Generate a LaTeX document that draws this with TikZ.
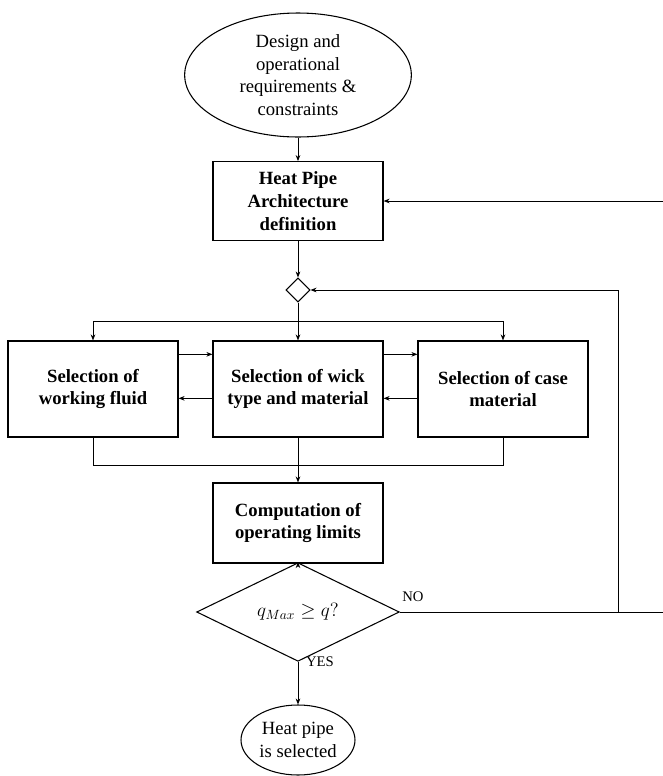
\documentclass[tikz,border=0pt]{standalone}
\usepackage{fontspec}
\setmainfont{Liberation Serif}
\usetikzlibrary{arrows.meta,shapes,positioning,calc}

\begin{document}
\begin{tikzpicture}[x=0.75pt,y=-0.75pt,
    every node/.style={font=\fontsize{14}{17}\selectfont, align=center},
    block/.style={draw, line width=0.9pt, minimum width=127.5pt, inner sep=2pt, font=\fontsize{14}{17}\selectfont\bfseries},
    term/.style={draw, ellipse, line width=0.8pt, inner sep=0pt},
    cond/.style={draw, diamond, line width=0.8pt, inner sep=0pt},
    lbl/.style={font=\fontsize{11}{13}\selectfont},
    arr/.style={-{Stealth[length=4.5pt,width=3.5pt]}, line width=0.6pt},
    ln/.style={line width=0.6pt}]
  \useasboundingbox (0,0) rectangle (663,776);

  % start / requirements
  \node[term, minimum width=170pt, minimum height=93pt] (req) at (298,75)
    {Design and\\operational\\requirements \&\\constraints};
  \node[block, minimum height=59pt] (arch) at (298,201)
    {Heat Pipe\\Architecture\\definition};
  \node[cond, minimum size=18pt] (sw) at (298,290) {};

  % three selection steps
  \node[block, minimum height=72pt] (wick) at (298,389) {Selection of wick\\type and material};
  \node[block, minimum height=72pt] (fluid) at (93,389) {Selection of\\working fluid};
  \node[block, minimum height=72pt] (case) at (503,389) {Selection of case\\material};

  \node[block, minimum height=60pt] (comp) at (298,523) {Computation of\\operating limits};
  \node[cond, minimum width=152pt, minimum height=60pt] (check) at (298,612)
    {$q_{Max} \geq q?$};
  \node[term, minimum width=85.5pt, minimum height=52.5pt] (done) at (298,740)
    {Heat pipe\\is selected};

  \node[lbl] (no) at (413,597) {NO};
  \node[lbl] (yes) at (320,662) {YES};

  \coordinate (split) at (298,321);
  \coordinate (merge) at (298,465);
  \coordinate (turn) at (618,612);
  \coordinate (noend) at (663,612);
  \coordinate (back) at (663,201);

  % main flow
  \draw[arr] (req) -- (arch);
  \draw[arr] (arch) -- (sw);
  \draw[arr] (sw) -- (wick);
  \draw[ln] (split -| fluid) -- (split -| case);
  \draw[arr] (split -| fluid) -- (fluid);
  \draw[arr] (split -| case) -- (case);

  % exchanges between selections
  \draw[arr] ([yshift=26pt]fluid.east) -- ([yshift=26pt]wick.west);
  \draw[arr] ([yshift=26pt]wick.east) -- ([yshift=26pt]case.west);
  \draw[arr] ([yshift=-7pt]wick.west) -- ([yshift=-7pt]fluid.east);
  \draw[arr] ([yshift=-7pt]case.west) -- ([yshift=-7pt]wick.east);

  \draw[ln] (fluid.south) -- (merge -| fluid) -- (merge -| case) -- (case.south);
  \draw[arr] (wick) -- (comp);
  \draw[arr] (comp) -- (check);
  \draw[arr] (check) -- (done);

  % loops back
  \draw[ln] (check.east) -- (noend);
  \draw[arr] (turn) |- (sw);
  \draw[arr] (back) -- (arch);
\end{tikzpicture}
\end{document}
